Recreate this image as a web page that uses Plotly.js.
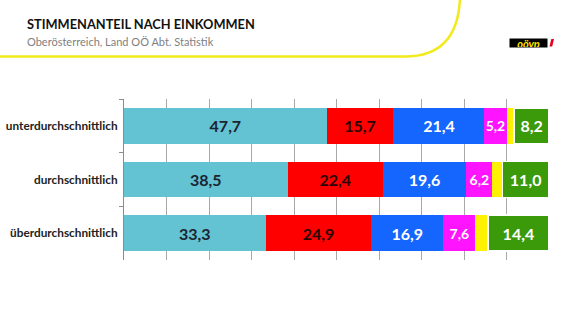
<!DOCTYPE html>
<html><head><meta charset="utf-8">
<script src="https://cdn.plot.ly/plotly-3.0.1.min.js"></script>
<style>html,body{margin:0;padding:0;background:#fff}#chart{width:576px;height:324px}</style>
</head><body><div id="chart"></div>
<script>
const categories = ["unterdurchschnittlich", "durchschnittlich", "überdurchschnittlich"];
const oevp   = [47.7, 38.5, 33.3];
const spoe   = [15.7, 22.4, 24.9];
const fpoe   = [21.4, 19.6, 16.9];
const neos   = [5.2, 6.2, 7.6];
const gelb   = [1.8, 2.3, 2.9];
const gruene = [8.2, 11.0, 14.4];

const seriesList = [
  {vals: oevp,   color: "#63c3d2", txt: "#1b2430", label: true, size: 16},
  {vals: spoe,   color: "#ff0000", txt: "#2a0505", label: true, size: 16},
  {vals: fpoe,   color: "#1466ff", txt: "#ffffff", label: true, size: 16},
  {vals: neos,   color: "#ff14ff", txt: "#ffffff", label: true, size: 14},
  {vals: gelb,   color: "#fff200", txt: "#000000", label: false, size: 10},
  {vals: gruene, color: "#3a9a0a", txt: "#ffffff", label: true, size: 16, edge: true}
];

const traces = seriesList.map(s => ({
  type: "bar", orientation: "h",
  y: categories, x: s.vals,
  marker: {color: s.color, line: {color: "#ffffff", width: s.edge ? 1.5 : 0}},
  texttemplate: s.label ? "%{x:.1f}" : "",
  textposition: s.label ? "inside" : "none",
  insidetextanchor: "middle",
  constraintext: "none",
  textangle: 0,
  insidetextfont: {family: "Lato, sans-serif", size: s.size, color: s.txt, weight: "bold"},
  hoverinfo: "skip", showlegend: false
}));

const W = 576, H = 324, L = 124, R = 27, T = 99, B = 64;
const pw = W - L - R, ph = H - T - B;
const px = v => ((v - L) / pw).toFixed(4);
const py = v => ((H - B - v) / ph).toFixed(4);

const curve = `M ${px(-5)},${py(56.5)} L ${px(405)},${py(56.5)} C ${px(445)},${py(56.5)} ${px(459)},${py(32)} ${px(460)},${py(-3)}`;
const slash = `M ${px(549.5)},${py(46.5)} L ${px(552.2)},${py(46.5)} L ${px(554)},${py(39)} L ${px(551.3)},${py(39)} Z`;

const layout = {
  width: W, height: H,
  margin: {l: L, r: R, t: T, b: B},
  paper_bgcolor: "#ffffff", plot_bgcolor: "#ffffff",
  barmode: "stack", bargap: 0.33,
  separators: ",.",
  font: {family: "Lato, sans-serif"},
  xaxis: {range: [0, 100], dtick: 10, showgrid: true, gridcolor: "#a8a8a8", gridwidth: 1,
          showticklabels: false, zeroline: false, showline: false, fixedrange: true},
  yaxis: {type: "category", autorange: "reversed", showline: true, linecolor: "#8c8c8c", linewidth: 1,
          ticks: "outside", tickson: "boundaries", ticklen: 4, tickcolor: "#8c8c8c",
          ticklabelstandoff: 3,
          tickfont: {family: "Lato, sans-serif", size: 11.8, color: "#222222", weight: "bold"},
          showgrid: false, zeroline: false},
  title: {text: "<b>STIMMENANTEIL NACH EINKOMMEN</b>", xref: "container", yref: "container",
          x: 27 / W, xanchor: "left", y: 1 - 25 / H, yanchor: "middle",
          font: {family: "Lato, sans-serif", size: 12.8, color: "#111111"}},
  annotations: [
    {text: "Oberösterreich, Land OÖ Abt. Statistik", xref: "paper", yref: "paper",
     x: px(25), y: py(41), xanchor: "left", yanchor: "middle", showarrow: false,
     font: {family: "Lato, sans-serif", size: 11, color: "#7f7f7f"}},
    {text: "<b><i>oövp</i></b>", xref: "paper", yref: "paper",
     x: px(529), y: py(42.7), xanchor: "center", yanchor: "middle", showarrow: false,
     bgcolor: "#000000", borderpad: 0, width: 37, height: 8,
     font: {family: "Lato, sans-serif", size: 11, color: "#ffe600"}}
  ],
  shapes: [
    {type: "path", xref: "paper", yref: "paper", path: curve, line: {color: "#f2ea1c", width: 2.5}},
    {type: "path", xref: "paper", yref: "paper", path: slash, fillcolor: "#e3001b", line: {width: 0}}
  ]
};

Plotly.newPlot("chart", traces, layout, {staticPlot: true, displayModeBar: false});
</script>
</body></html>
